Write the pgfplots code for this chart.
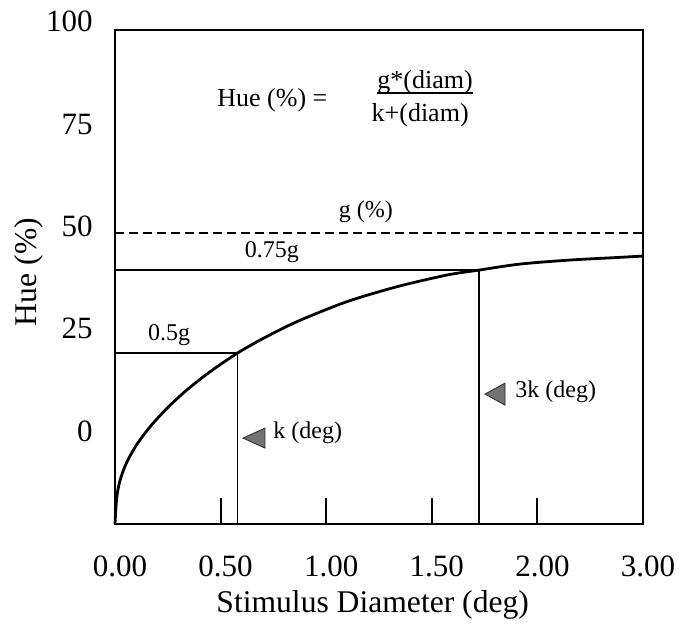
\documentclass[border=0pt]{standalone}
\usepackage{fontspec}
\setmainfont{Liberation Serif}
\usepackage{pgfplots}
\pgfplotsset{compat=1.18}

\newcommand{\bigfont}{\fontsize{15.5}{18}\selectfont}
\newcommand{\labfont}{\fontsize{15.8}{18}\selectfont}
\newcommand{\notefont}{\fontsize{12}{14}\selectfont}
\newcommand{\eqfont}{\fontsize{13}{15}\selectfont}

\begin{document}
\begin{tikzpicture}[x=1pt,y=1pt]
\useasboundingbox (-57.5,-54) rectangle (286,262);
\begin{axis}[
  at={(0,0)}, anchor=south west,
  scale only axis, width=264pt, height=247pt,
  xmin=0, xmax=2.5, ymin=-22.7, ymax=98,
  clip=false,
  axis line style={line width=1pt},
  xtick={0,0.5,1,1.5,2,2.5},
  xticklabels={0.00,0.50,1.00,1.50,2.00,3.00},
  xtick pos=bottom,
  tick align=inside,
  major tick length=13pt,
  xtick style={line width=1pt,black},
  ytick={0,25,50,75},
  yticklabels={0,25,50,75},
  ytick style={draw=none},
  ytick pos=left,
  /pgf/number format/assume math mode=true,
  xticklabel style={anchor=center, yshift=-21pt, xshift=2.5pt, font=\bigfont},
  yticklabel style={anchor=east, inner sep=0pt, xshift=-11pt, font=\bigfont},
  xlabel={Stimulus Diameter (deg)},
  xlabel style={at={(axis description cs:0.488,0)}, anchor=base, yshift=-44.5pt, font=\labfont},
  ylabel={Hue (\%)},
  ylabel style={at={(axis description cs:-0.163,0.51)}, anchor=center, font=\labfont},
]
% saturating hue curve
\addplot[line width=1.4pt, smooth] coordinates {
  (0,-22.7) (0.008,-16.4) (0.024,-12.0) (0.055,-7.7) (0.103,-3.3)
  (0.166,1.05) (0.245,5.5) (0.339,10.0) (0.450,14.5) (0.58,19.06)
  (0.702,22.65) (0.860,26.71) (1.097,31.60) (1.334,35.26) (1.571,38.12)
  (1.725,39.35) (1.918,40.81) (2.154,41.79) (2.391,42.45) (2.5,42.77)
};
% half-saturation guides
\addplot[line width=1pt] coordinates {(0,19.06) (0.58,19.06)};
\addplot[line width=0.9pt] coordinates {(0.58,-22.7) (0.58,19.06)};
% three-quarter guides
\addplot[line width=1pt] coordinates {(0,39.35) (1.725,39.35)};
\addplot[line width=0.9pt] coordinates {(1.725,-22.7) (1.725,39.35)};
% asymptote g
\addplot[line width=1pt, dash pattern=on 4.5pt off 2.5pt] coordinates {(0,48.4) (2.5,48.4)};

% pointers
\filldraw[fill=black!55, draw=black!85, line width=0.4pt]
  (axis cs:0.606,-1.71) -- (axis cs:0.710,0.73) -- (axis cs:0.710,-4.15) -- cycle;
\filldraw[fill=black!55, draw=black!85, line width=0.4pt]
  (axis cs:1.752,9.04) -- (axis cs:1.847,11.73) -- (axis cs:1.847,6.35) -- cycle;

% annotations
\node[anchor=west, font=\notefont, inner sep=0pt] at (axis cs:0.748,-0.5) {k (deg)};
\node[anchor=west, font=\notefont, inner sep=0pt] at (axis cs:1.894,9.53) {3k (deg)};
\node[font=\notefont, inner sep=0pt] at (axis cs:1.188,53.5) {g (\%)};
\node[font=\notefont, inner sep=0pt] at (axis cs:0.743,43.7) {0.75g};
\node[font=\notefont, inner sep=0pt] at (axis cs:0.256,23.5) {0.5g};

% model equation
\node[anchor=west, font=\eqfont, inner sep=0pt] at (axis cs:0.483,80.9) {Hue (\%) =};
\node[font=\eqfont, inner sep=0pt] at (axis cs:1.468,85.2) {g*(diam)};
\draw[line width=0.9pt] (axis cs:1.241,82.6) -- (axis cs:1.695,82.6);
\node[font=\eqfont, inner sep=0pt] at (axis cs:1.445,77.2) {k+(diam)};

% top label on the hue scale
\node[anchor=east, font=\bigfont, inner sep=0pt, xshift=-11pt] at (axis cs:0,100) {100};
\end{axis}
\end{tikzpicture}
\end{document}
